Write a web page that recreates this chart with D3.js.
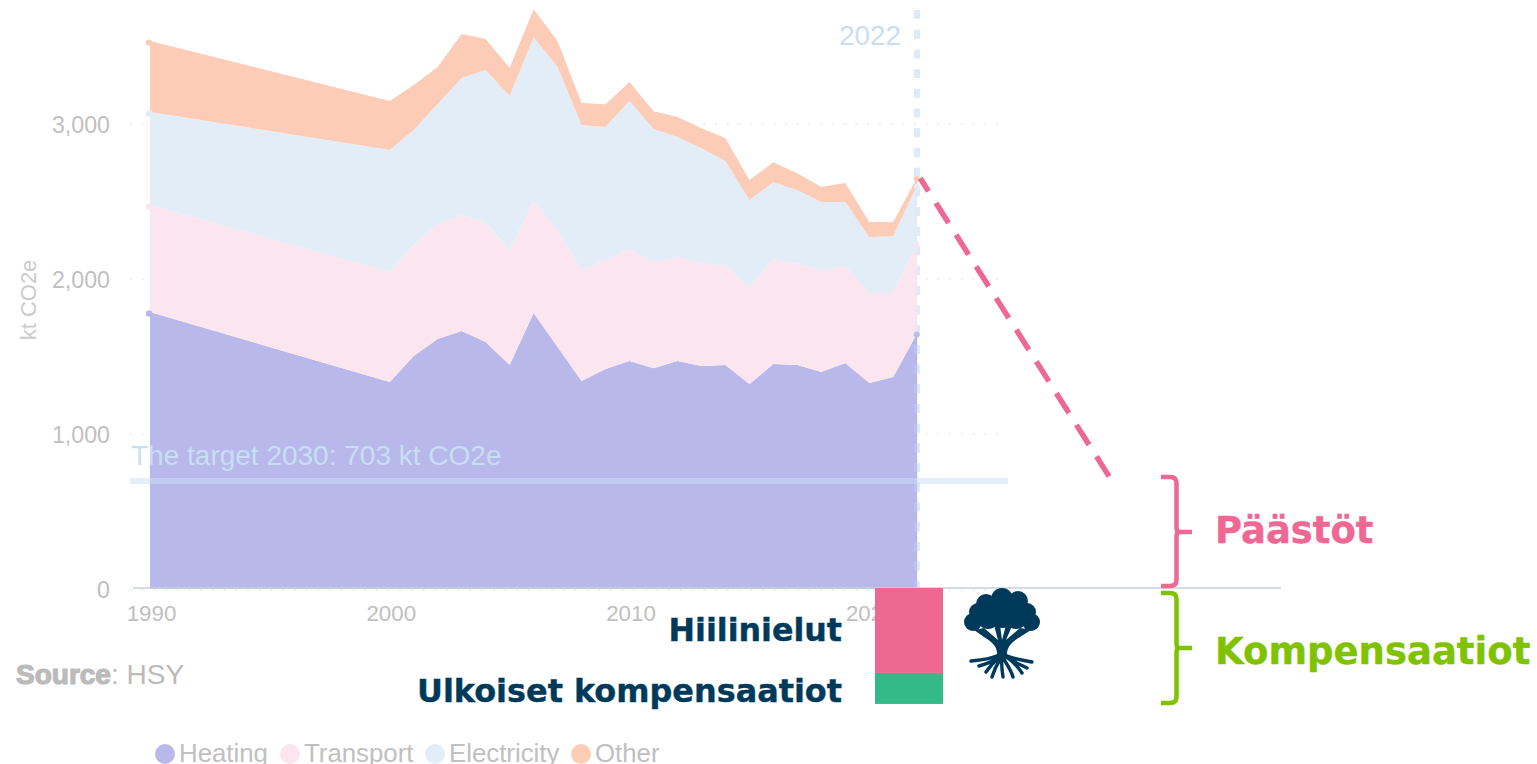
<!DOCTYPE html>
<html><head><meta charset="utf-8">
<script src="https://cdn.jsdelivr.net/npm/d3@7/dist/d3.min.js"></script>
<style>
html,body{margin:0;padding:0;background:#fff;overflow:hidden}
svg{display:block}
text{font-family:"Liberation Sans",Arial,sans-serif}
.b{font-family:"DejaVu Sans",sans-serif;font-weight:700}
</style></head><body><svg id="c" width="1537" height="764"></svg>
<script>
const years=[1990,2000,2001,2002,2003,2004,2005,2006,2007,2008,2009,2010,2011,2012,2013,2014,2015,2016,2017,2018,2019,2020,2021,2022];
const heating=[1787,1335,1503,1613,1664,1593,1445,1780,1561,1342,1419,1471,1425,1471,1438,1445,1322,1451,1445,1400,1458,1329,1367,1651];
const transport=[690,710,716,742,748,768,742,722,755,716,703,722,684,671,664,639,626,677,651,658,626,580,542,580];
const electricity=[600,787,742,774,884,987,993,1058,1051,935,858,955,858,774,742,677,561,497,477,439,413,361,368,374];
const other=[458,316,290,239,284,200,181,181,168,142,148,123,116,129,129,148,129,129,110,97,123,97,90,52];
const seriesNames=["Heating","Transport","Electricity","Other"];
const seriesColors=["#b9b8ea","#fbe5ef","#e3edf8","#fdccb7"];
const yTicks=[0,1000,2000,3000];
const xTicks=[1990,2000,2010,2020];
const targetValue=703, targetYear=2030, currentYear=2022;
const sinks=-548, offsets=-200;

const svg=d3.select("#c");
const x=d3.scaleLinear().domain([1990,2030]).range([150,1109]);
const y=d3.scaleLinear().domain([0,3000]).range([589,124]);
const rows=years.map((yr,i)=>({yr,Heating:heating[i],Transport:transport[i],Electricity:electricity[i],Other:other[i]}));
const stacked=d3.stack().keys(seriesNames)(rows);
const muted="#c0c0c0";

// grid
svg.append("g").selectAll("line").data(yTicks).join("line")
  .attr("x1",130).attr("x2",1000).attr("y1",d=>y(d)+(d===0?1:0)).attr("y2",d=>y(d)+(d===0?1:0))
  .attr("stroke","#e9e9e9").attr("stroke-width",1.5).attr("stroke-dasharray","2 9.7");

// current-year line beneath the areas
const vline=()=>svg.append("line").attr("x1",917).attr("x2",917).attr("y1",10).attr("y2",589)
  .attr("stroke","#d9e8f8").attr("stroke-width",6).attr("stroke-dasharray","9 10.7");
vline().attr("stroke-opacity",.85);

// areas
const area=d3.area().x((d,i)=>x(years[i])).y0(d=>y(d[0])).y1(d=>y(d[1]));
svg.append("g").selectAll("path").data(stacked).join("path")
  .attr("d",area).attr("fill",(d,i)=>seriesColors[i]);
stacked.forEach((s,k)=>{
  svg.append("circle").attr("cx",x(years[0])-1).attr("cy",y(s[0][1])+1.5).attr("r",3.2).attr("fill",seriesColors[k]);
  svg.append("circle").attr("cx",x(currentYear)-0.5).attr("cy",y(s[s.length-1][1])+1.5).attr("r",3).attr("fill",seriesColors[k]);
});
vline().attr("stroke-opacity",.2);

// x axis
const xAxis=svg.append("g").attr("transform","translate(1,588)")
  .call(d3.axisBottom(x).tickValues(xTicks).tickFormat(d3.format("d")).tickSize(0));
xAxis.select(".domain").remove();
xAxis.selectAll("text").attr("fill",muted).style("font-size","22.3px").attr("dy",0).attr("y",33);
svg.append("line").attr("x1",133).attr("x2",1281).attr("y1",588).attr("y2",588).attr("stroke","#c6d2dc").attr("stroke-width",1.6);

// y axis
const yAxis=svg.append("g").attr("transform","translate(110,0)")
  .call(d3.axisLeft(y).tickValues(yTicks).tickFormat(d3.format(",")).tickSize(0).tickPadding(0));
yAxis.select(".domain").remove();
yAxis.selectAll("text").attr("fill",muted).style("font-size","23.2px").attr("dy","0.35em");
svg.append("text").attr("transform","translate(36,300) rotate(-90)").attr("text-anchor","middle")
  .attr("fill","#cbcbcb").style("font-size","22px").text("kt CO2e");

// target
svg.append("line").attr("x1",130).attr("x2",1008).attr("y1",y(targetValue)+1).attr("y2",y(targetValue)+1)
  .attr("stroke","#c9e0f7").attr("stroke-opacity",.5).attr("stroke-width",6);
svg.append("text").attr("x",131).attr("y",465).attr("fill","#c7dff5").style("font-size","28px").text("The target 2030: 703 kt CO2e");
svg.append("text").attr("x",901).attr("y",45).attr("text-anchor","end").attr("fill","#c7dff5").style("font-size","27.8px").text(currentYear);

// pathway
const total2022=heating[23]+transport[23]+electricity[23]+other[23];
svg.append("path").attr("d",d3.line().x(d=>x(d[0])).y(d=>y(d[1]))([[currentYear,total2022],[targetYear,targetValue]]))
  .attr("transform","translate(3,1)")
  .attr("fill","none").attr("stroke","#ee6893").attr("stroke-width",5.5)
  .attr("stroke-dasharray","23.5 14").attr("stroke-dashoffset",8);

// source
const src=svg.append("text").attr("x",16).attr("y",684).style("font-size","28px").attr("fill","#bbbbbb");
src.append("tspan").style("font-weight","700").attr("stroke","#bbbbbb").attr("stroke-width",1.2).text("Source");
src.append("tspan").text(": HSY");

// legend
const legendX=[165,290,435,581];
seriesNames.forEach((n,i)=>{
  svg.append("circle").attr("cx",legendX[i]).attr("cy",754).attr("r",10).attr("fill",seriesColors[i]);
  svg.append("text").attr("x",legendX[i]+14).attr("y",762).attr("fill",muted).style("font-size","25.8px").text(n);
});

// compensation bars
svg.append("rect").attr("x",875).attr("width",68).attr("y",y(0)-1).attr("height",y(sinks)-y(0)).attr("fill","#ee6893");
svg.append("rect").attr("x",875).attr("width",68).attr("y",y(sinks)-1).attr("height",y(sinks+offsets)-y(sinks)).attr("fill","#34b98a");

// labels
const dark="#003a5a";
[["Hiilinielut",842,641,dark,"end",31.7],["Ulkoiset kompensaatiot",842,702,dark,"end",31.9],
 ["Päästöt",1215,543,"#ee6893","start",36.9],["Kompensaatiot",1215,664,"#7fc300","start",37]]
 .forEach(([t,px,py,c,a,s])=>svg.append("text").attr("class","b").attr("x",px).attr("y",py)
   .attr("text-anchor",a).attr("fill",c).attr("stroke",c).attr("stroke-width",.4).style("font-size",s+"px").text(t));

// braces
function brace(top,mid,bot,c){
  svg.append("path").attr("fill","none").attr("stroke",c).attr("stroke-width",4.5)
   .attr("d",`M1161,${top}H1170Q1176.5,${top} 1176.5,${top+6}V${mid-4}Q1176.5,${mid} 1180,${mid}H1192M1180,${mid}Q1176.5,${mid} 1176.5,${mid+4}V${bot-6}Q1176.5,${bot} 1170,${bot}H1161`);
}
brace(477,532,586,"#ee6893");
brace(593,648,703,"#7fc300");

// tree
const tree=svg.append("g").attr("fill",dark);
[[1002,599,11],[986,604,10],[1018,601,10],[973,622,9],[1031,622,9],[978,612,9],[1027,612,9],[1002,612,16],[988,618,11],[1016,618,11]]
 .forEach(c=>tree.append("circle").attr("cx",c[0]).attr("cy",c[1]).attr("r",c[2]));
tree.append("path").attr("d","M997,657C998,648 994,643 984,637L974,630L984,628L998,640L994,625L1000,625L1002,640L1006,625L1012,626L1006,640L1020,628L1031,630L1020,637C1011,642 1006,648 1007,657Z");
tree.append("path").attr("fill","none").attr("stroke",dark).attr("stroke-width",3.4).attr("stroke-linecap","round")
 .attr("d","M971,661C982,660 992,659 999,655M1032,662C1022,660 1012,659 1005,655M979,666C986,664 992,662 998,658M986,672C990,666 995,661 1000,657M992,677C994,670 997,664 1001,658M1003,677C1002,670 1001,664 1002,658M1013,677C1011,670 1007,664 1003,658M1022,673C1018,667 1013,661 1006,657M1027,668C1021,665 1014,662 1008,658");
</script></body></html>
